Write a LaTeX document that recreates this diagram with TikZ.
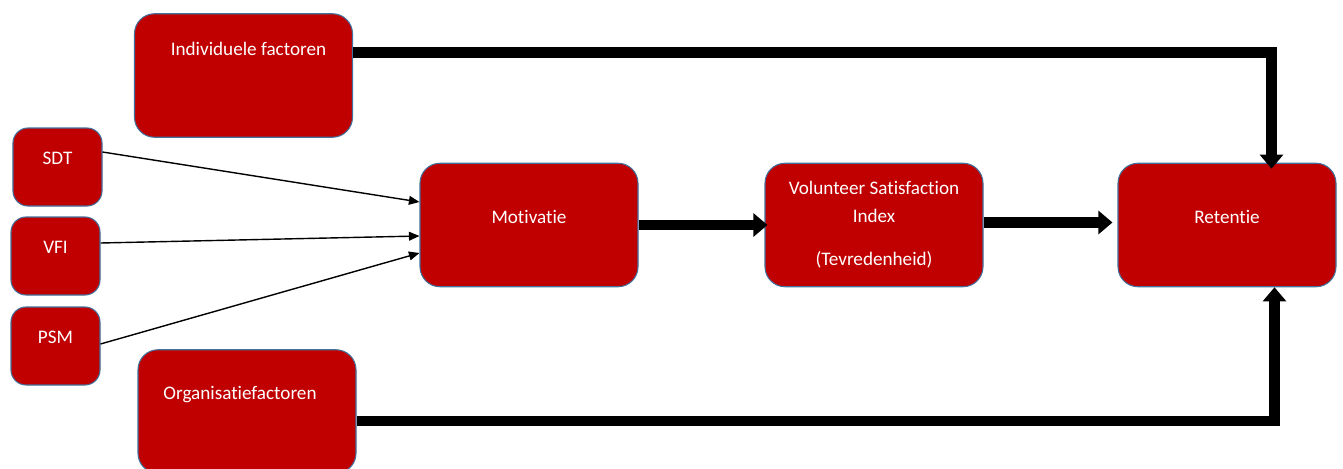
\documentclass[tikz,border=0pt]{standalone}
\usepackage{fontspec}
\setmainfont{Carlito}[Ligatures=NoCommon]
\usetikzlibrary{positioning, arrows.meta, calc}
\definecolor{boxred}{HTML}{C00000}
\definecolor{boxedge}{HTML}{41719C}

\begin{document}
\begin{tikzpicture}[
  align=center,
  font=\fontsize{10.9}{16}\selectfont,
  % Estilos de cajas
  bigbox/.style={draw=boxedge, fill=boxred, rectangle, rounded corners=0.4cm, line width=0.6pt, minimum width=4.36cm, minimum height=2.47cm, text=white},
  smallbox/.style={draw=boxedge, fill=boxred, rectangle, rounded corners=0.3cm, line width=0.6pt, minimum width=1.78cm, minimum height=1.56cm, text=white},
  toptext/.style={anchor=center, text=white},
  raise/.style={text depth=0.33cm},
  % Estilos de flechas
  fat/.style={draw, line width=5.8pt, -{Triangle[width=13pt, length=8pt]}},
  thin/.style={draw, line width=0.8pt, -{Triangle[width=5pt, length=6pt]}}
]
  \useasboundingbox (0,0) rectangle (26.86,-9.38);

  % ==========================================
  % LEFT COLUMN: FACTORS AND THEORIES
  % ==========================================
  \node[bigbox, label={[toptext, xshift=0.1cm, yshift=-0.72cm]north:Individuele factoren}] (ind) at (4.87,-1.51) {};
  \node[smallbox, raise] (sdt) at (1.15,-3.34) {SDT};
  \node[smallbox, raise] (vfi) at (1.11,-5.12) {VFI};
  \node[smallbox, raise] (psm) at (1.11,-6.92) {PSM};
  \node[bigbox, label={[toptext, xshift=-0.14cm, yshift=-0.9cm]north:Organisatiefactoren}] (org) at (4.94,-8.23) {};

  % ==========================================
  % MAIN CHAIN
  % ==========================================
  \node[bigbox, raise] (mot) at (10.58,-4.5) {Motivatie};
  \node[bigbox] (vsi) at (17.48,-4.5) {Volunteer Satisfaction\\Index\\[0.3cm](Tevredenheid)};
  \node[bigbox, raise] (ret) at (24.54,-4.5) {Retentie};

  % corner points of the feedback lines
  \coordinate (topc) at (25.43,-1.05);
  \coordinate (botc) at (25.49,-8.42);

  % ==========================================
  % ARROWS
  % ==========================================
  \draw[thin] ($(sdt.east)+(0,0.3)$) -- ($(mot.west)+(0,0.46)$);
  \draw[thin] ($(vfi.east)+(0,0.26)$) -- ($(mot.west)+(0,-0.22)$);
  \draw[thin] ($(psm.east)+(0,0.04)$) -- ($(mot.west)+(0,-0.56)$);

  \draw[fat] (mot.east) -- ($(vsi.west)+(0.06,0)$);
  \draw[fat] ($(vsi.east)+(0,0.05)$) -- ($(ret.west)+(-0.1,0.05)$);

  \draw[fat, shorten >=-0.12cm] (ind.east |- topc) -- (topc) -- (topc |- ret.north);
  \draw[fat] (org.east |- botc) -- (botc) -- (botc |- ret.south);

\end{tikzpicture}
\end{document}
